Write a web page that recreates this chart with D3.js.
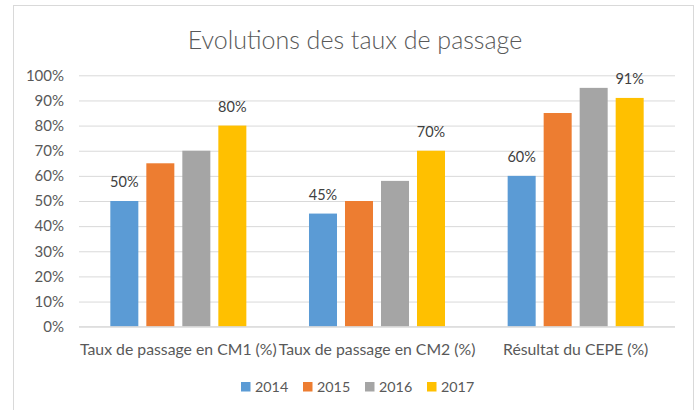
<!DOCTYPE html>
<html><head><meta charset="utf-8">
<script src="https://cdn.jsdelivr.net/npm/d3@7"></script>
<style>
html,body{margin:0;padding:0;background:#fff;}
svg{display:block;font-family:Lato,"Open Sans",sans-serif;}
</style></head>
<body><svg id="c" width="697" height="410"></svg>
<script>
const categories = ["Taux de passage en CM1 (%)", "Taux de passage en CM2 (%)", "Résultat du CEPE (%)"];
const years = ["2014", "2015", "2016", "2017"];
const v2014 = [50, 45, 60];
const v2015 = [65, 50, 85];
const v2016 = [70, 58, 95];
const v2017 = [80, 70, 91];
const yTicks = [0,10,20,30,40,50,60,70,80,90,100];
const labeledYears = ["2014", "2017"];
const colors = ["#5b9bd5", "#ed7d31", "#a5a5a5", "#ffc000"];
const title = "Evolutions des taux de passage";

const series = [v2014, v2015, v2016, v2017];
const svg = d3.select("#c");
const W = 697, H = 410;
const m = {left: 79, right: 697 - 675, top: 75.3, bottom: 410 - 326.7};

svg.append("rect").attr("x", 13.5).attr("y", 5.5).attr("width", 680).attr("height", 420)
  .attr("fill", "#fff").attr("stroke", "#d9d9d9").attr("stroke-width", 1);

const x0 = d3.scaleBand().domain(categories).range([m.left, W - m.right]).paddingInner(0).paddingOuter(0);
const x1 = d3.scaleBand().domain(years).range([0, x0.bandwidth()]).paddingInner(0.222).paddingOuter(0.87);
const y = d3.scaleLinear().domain([0, 100]).range([H - m.bottom, m.top]);

// gridlines
const yAxis = d3.axisLeft(y).tickValues(yTicks).tickFormat(d => d + "%").tickSize(-(W - m.left - m.right)).tickPadding(15);
const gy = svg.append("g").attr("transform", `translate(${m.left},0)`).call(yAxis);
gy.select(".domain").remove();
gy.selectAll(".tick line").attr("stroke", "#d9d9d9").attr("stroke-width", 1);
gy.selectAll(".tick text").attr("fill", "#595959").attr("font-size", 15).attr("font-family", "Lato");

// bars
const groups = svg.append("g").selectAll("g").data(categories).join("g")
  .attr("transform", d => `translate(${x0(d)},0)`);
groups.selectAll("rect").data((c, i) => years.map((yr, j) => ({yr, j, v: series[j][i]})))
  .join("rect")
  .attr("x", d => x1(d.yr)).attr("width", x1.bandwidth())
  .attr("y", d => y(d.v)).attr("height", d => y(0) - y(d.v))
  .attr("fill", d => colors[d.j]);
groups.selectAll("text").data((c, i) => years.map((yr, j) => ({yr, j, v: series[j][i]})).filter(d => labeledYears.includes(d.yr)))
  .join("text")
  .attr("x", d => x1(d.yr) + x1.bandwidth() / 2).attr("y", d => y(d.v) - 14)
  .attr("text-anchor", "middle").attr("font-size", 14.5).attr("fill", "#404040")
  .text(d => d.v + "%");

// baseline
svg.append("line").attr("x1", m.left).attr("x2", W - m.right).attr("y1", y(0)).attr("y2", y(0))
  .attr("stroke", "#d9d9d9");

// category axis labels
const xAxis = d3.axisBottom(x0).tickSize(0).tickPadding(17);
const gx = svg.append("g").attr("transform", `translate(0,${y(0)})`).call(xAxis);
gx.select(".domain").remove();
gx.selectAll(".tick text").attr("fill", "#595959").attr("font-size", 15.8).attr("font-family", "Lato");

// title
svg.append("text").attr("x", 355).attr("y", 49).attr("text-anchor", "middle")
  .attr("font-size", 25).attr("font-weight", 300).attr("fill", "#595959").text(title);

// legend
const legStart = 241, legStep = 62;
const lg = svg.append("g").selectAll("g").data(years).join("g")
  .attr("transform", (d, i) => `translate(${legStart + i * legStep},382)`);
lg.append("rect").attr("width", 9.5).attr("height", 9.5).attr("fill", (d, i) => colors[i]);
lg.append("text").attr("x", 14).attr("y", 10).attr("font-size", 14.3).attr("fill", "#595959").text(d => d);
</script></body></html>
